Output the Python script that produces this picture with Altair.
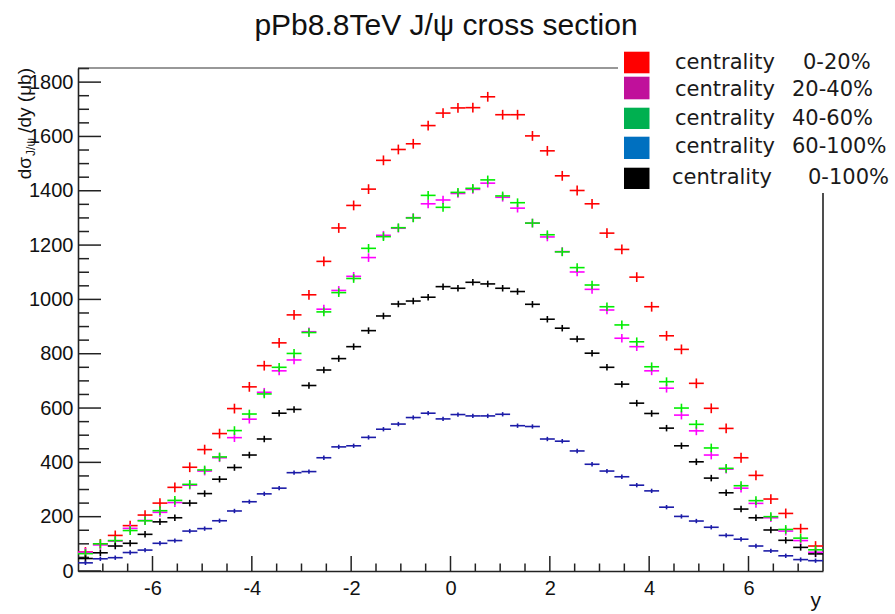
import altair as alt
import pandas as pd

# ---------------- data ----------------
Y_BINS = [-7.35, -7.05, -6.75, -6.45, -6.15, -5.85, -5.55, -5.25, -4.95, -4.65,
          -4.35, -4.05, -3.75, -3.45, -3.15, -2.85, -2.55, -2.25, -1.95, -1.65,
          -1.35, -1.05, -0.75, -0.45, -0.15, 0.15, 0.45, 0.75, 1.05, 1.35,
          1.65, 1.95, 2.25, 2.55, 2.85, 3.15, 3.45, 3.75, 4.05, 4.35,
          4.65, 4.95, 5.25, 5.55, 5.85, 6.15, 6.45, 6.75, 7.05, 7.35]
BIN_HALF = 0.15

C0_20 = [70, 100, 131, 167, 206, 250, 308, 382, 447, 506,
         598, 678, 756, 840, 943, 1017, 1140, 1263, 1346, 1406,
         1512, 1552, 1573, 1640, 1686, 1705, 1706, 1746, 1680, 1680,
         1602, 1547, 1455, 1401, 1352, 1244, 1184, 1082, 973, 866,
         816, 691, 599, 525, 417, 352, 265, 212, 156, 92]
C20_40 = [69, 96, 110, 157, 186, 216, 252, 316, 368, 417,
          491, 559, 658, 737, 777, 881, 964, 1033, 1085, 1154,
          1236, 1262, 1301, 1352, 1366, 1390, 1405, 1428, 1376, 1336,
          1281, 1230, 1176, 1101, 1037, 961, 857, 826, 737, 673,
          574, 516, 427, 375, 305, 249, 196, 147, 112, 69]
C40_60 = [64, 100, 112, 149, 185, 222, 260, 319, 372, 420,
          517, 578, 652, 750, 801, 878, 954, 1025, 1077, 1188,
          1231, 1264, 1300, 1383, 1339, 1394, 1409, 1440, 1381, 1356,
          1281, 1238, 1175, 1117, 1053, 973, 906, 844, 752, 697,
          600, 540, 453, 378, 314, 259, 200, 153, 121, 78]
C60_100 = [30, 45, 49, 68, 77, 102, 112, 147, 156, 185,
           221, 255, 284, 305, 362, 366, 417, 457, 461, 492,
           522, 541, 565, 581, 560, 576, 571, 571, 577, 535,
           532, 486, 478, 442, 393, 368, 347, 316, 295, 235,
           201, 184, 161, 131, 117, 92, 74, 56, 42, 38]
C0_100 = [46, 67, 92, 102, 135, 181, 196, 250, 285, 338,
          381, 427, 486, 581, 595, 683, 740, 782, 826, 885,
          939, 983, 994, 1008, 1047, 1041, 1063, 1057, 1041, 1029,
          982, 927, 894, 854, 802, 750, 688, 618, 580, 526,
          461, 402, 342, 288, 228, 196, 151, 113, 87, 63]
# vertical error half-size (estimated, per series)
ERRS = [18, 16, 16, 8, 12]

SERIES = ["0-20%", "20-40%", "40-60%", "60-100%", "0-100%"]
VALUES = [C0_20, C20_40, C40_60, C60_100, C0_100]
DATA_COLORS = ["#ff0000", "#ff00ff", "#00ee00", "#1c1ca8", "#000000"]
LEGEND_COLORS = ["#ff0000", "#c0109b", "#00b050", "#0070c0", "#000000"]
DRAW_ORDER = [0, 1, 2, 4, 3]

X_LABELS = [-6, -4, -2, 0, 2, 4, 6]
X_MINOR = [-7, -6.5, -5.5, -5, -4.5, -3.5, -3, -2.5, -1.5, -1, -0.5,
           0.5, 1, 1.5, 2.5, 3, 3.5, 4.5, 5, 5.5, 6.5, 7]
Y_LABELS = [0, 200, 400, 600, 800, 1000, 1200, 1400, 1600, 1800]
Y_MINOR = [v for v in range(50, 1800, 50) if v % 200 != 0] + [1850]

# ---------------- table ----------------
rows = []
for k in DRAW_ORDER:
    for x, v in zip(Y_BINS, VALUES[k]):
        rows.append({"series": SERIES[k], "x": x, "xlo": x - BIN_HALF,
                     "xhi": x + BIN_HALF, "val": v,
                     "lo": v - ERRS[k], "hi": v + ERRS[k]})
df = pd.DataFrame(rows)

W, H = 745, 503
OX, OY = 78, 68
FONT = "Liberation Sans"

xscale = alt.Scale(domain=[-7.5, 7.5], nice=False, zero=False)
yscale = alt.Scale(domain=[0, 1852], nice=False, zero=True)
color = alt.Color("series:N", scale=alt.Scale(domain=SERIES, range=DATA_COLORS), legend=None)

xaxis = alt.Axis(values=X_LABELS, ticks=False, grid=False, title=None,
                 domainColor="#222", domainWidth=1.6, labelFont=FONT,
                 labelFontSize=20, labelColor="#111", labelPadding=7,
                 labelFlush=False, labelOverlap=False,
                 labelExpr="'' + datum.value")
yaxis = alt.Axis(values=Y_LABELS, ticks=False, grid=False, title=None,
                 domainColor="#222", domainWidth=1.6, labelFont=FONT,
                 labelFontSize=20, labelColor="#111", labelPadding=5,
                 labelFlush=False, labelOverlap=False,
                 labelExpr="'' + datum.value")

hbars = alt.Chart(df).mark_rule(strokeWidth=1.6).encode(
    x=alt.X("xlo:Q", scale=xscale, axis=xaxis),
    x2="xhi:Q",
    y=alt.Y("val:Q", scale=yscale, axis=yaxis),
    color=color,
)
vbars = alt.Chart(df).mark_rule(strokeWidth=1.6).encode(
    x=alt.X("x:Q", scale=xscale),
    y=alt.Y("lo:Q", scale=yscale),
    y2="hi:Q",
    color=color,
)

def yticks(vals, length):
    return alt.Chart(pd.DataFrame({"val": vals})).mark_rule(
        color="#222", strokeWidth=1.5).encode(
        y=alt.Y("val:Q", scale=yscale), x=alt.value(0), x2=alt.value(length))

def xticks(vals, length):
    return alt.Chart(pd.DataFrame({"x": vals})).mark_rule(
        color="#222", strokeWidth=1.5).encode(
        x=alt.X("x:Q", scale=xscale), y=alt.value(H), y2=alt.value(H - length))

one = pd.DataFrame({"a": [0]})

def text(t, x, y, size, align="left", baseline="alphabetic", angle=0, font=FONT, color="#111"):
    kw = dict(align=align, baseline=baseline, fontSize=size, font=font, color=color)
    if angle:
        kw["angle"] = angle
    return alt.Chart(pd.DataFrame({"t": [t]})).mark_text(**kw).encode(
        x=alt.value(x), y=alt.value(y), text="t:N")

layers = [
    yticks(Y_LABELS, 23), yticks(Y_MINOR, 11),
    xticks(X_LABELS, 15), xticks(X_MINOR, 7.5),
    # frame: top line (cut by legend box) and right line (below legend)
    alt.Chart(one).mark_rule(color="#333", strokeWidth=1.2).encode(
        x=alt.value(0), x2=alt.value(618 - OX), y=alt.value(0)),
    alt.Chart(one).mark_rule(color="#222", strokeWidth=1.6).encode(
        x=alt.value(W), y=alt.value(193 - OY), y2=alt.value(H)),
    hbars, vbars,
    # title
    text("pPb8.8TeV J/\u03c8 cross section", 446 - OX, 35 - OY, 30, align="center"),
    # x axis title
    text("y", 821 - OX, 607 - OY, 21, align="right"),
    # y axis title: d sigma_{J/psi} / dy (mu b)
    text("/dy (\u03bcb)", 31 - OX, 0, 19, align="right", angle=270),
    text("J/\u03c8", 35 - OX, 70, 12, align="right", angle=270),
    text("d\u03c3", 31 - OX, 89, 19, align="right", angle=270),
]

# legend (drawn manually: legend colours differ from marker colours)
LEG_BOX = [(51.7, 73.3), (76.7, 99.3), (107.7, 129.0), (136.7, 159.0), (167.7, 189.0)]
LEG_TEXT_Y = [63.3, 90.0, 119.3, 147.3, 177.7]
LEG_WORD_X = [675, 675, 675, 675, 672]
LEG_PCT_X = [803, 792, 792, 792, 808]
for i in range(5):
    layers.append(alt.Chart(one).mark_rect(color=LEGEND_COLORS[i]).encode(
        x=alt.value(624 - OX), x2=alt.value(649.5 - OX),
        y=alt.value(LEG_BOX[i][0] - OY), y2=alt.value(LEG_BOX[i][1] - OY)))
    layers.append(text("centrality", LEG_WORD_X[i] - OX, LEG_TEXT_Y[i] - OY, 21,
                       baseline="middle", font="DejaVu Sans", color="#1a1a1a"))
    layers.append(text(SERIES[i], LEG_PCT_X[i] - OX, LEG_TEXT_Y[i] - OY, 21,
                       baseline="middle", font="DejaVu Sans", color="#1a1a1a"))

chart = alt.layer(*layers).properties(
    width=W, height=H,
    autosize=alt.AutoSizeParams(type="none"),
    padding={"left": OX, "top": OY, "right": 895 - OX - W, "bottom": 614 - OY - H},
    background="white",
).configure_view(stroke=None)

chart.save("out.html", embed_options={"renderer": "svg", "actions": False})
